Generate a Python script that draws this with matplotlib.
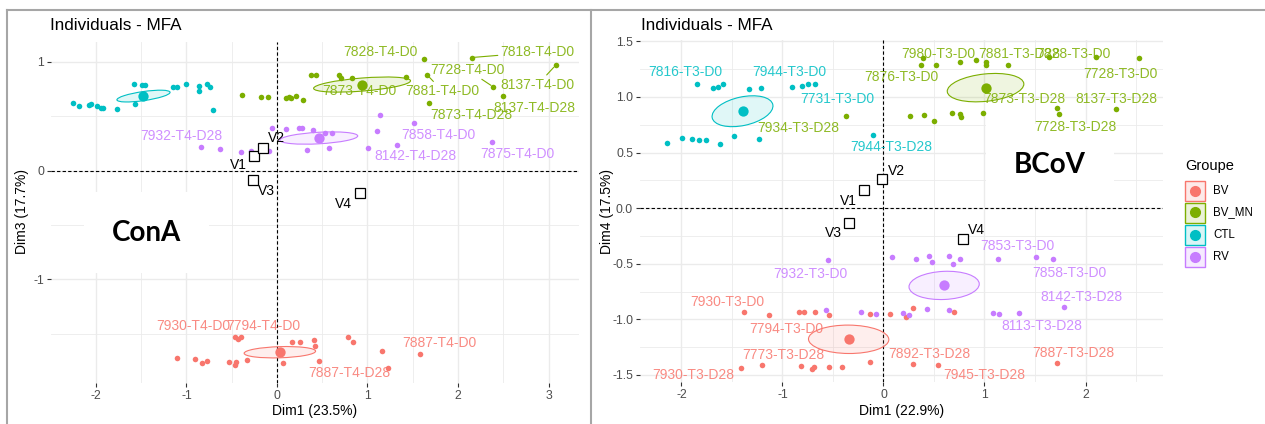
import numpy as np
import matplotlib.pyplot as plt
from matplotlib.patches import Ellipse, Rectangle
from matplotlib.lines import Line2D
from matplotlib.colors import to_rgba
from matplotlib.ticker import FormatStrFormatter, FixedLocator

plt.rcParams['font.family'] = ['Liberation Sans', 'DejaVu Sans']
plt.rcParams['axes.unicode_minus'] = False

W, H = 1265, 424

groups = ['BV', 'BV_MN', 'CTL', 'RV']
colors = {'BV': '#F8766D', 'BV_MN': '#7CAE00', 'CTL': '#00BFC4', 'RV': '#C77CFF'}

# ---- ConA : Dim1 (23.5%) x Dim3 (17.7%) ----
cona_bv_x = [-1.11, -0.91, -0.83, -0.77, -0.53, -0.46, -0.45, -0.33, -0.46, -0.43, -0.40,
             0.07, 0.17, 0.25, 0.41, 0.42, 0.46, 0.79, 0.84, 1.16, 1.23, 1.58]
cona_bv_y = [-1.72, -1.73, -1.77, -1.75, -1.76, -1.79, -1.76, -1.74, -1.53, -1.55, -1.53,
             -1.77, -1.58, -1.58, -1.56, -1.61, -1.75, -1.53, -1.58, -1.66, -1.82, -1.69]
cona_mn_x = [-0.39, -0.18, -0.10, 0.10, 0.13, 0.15, 0.21, 0.29, 0.38, 0.43, 0.68,
             0.71, 0.83, 1.42, 1.62, 1.66, 1.68, 2.15, 2.39, 2.50, 3.08]
cona_mn_y = [0.70, 0.68, 0.68, 0.67, 0.68, 0.67, 0.69, 0.65, 0.88, 0.88, 0.88,
             0.85, 0.85, 0.86, 1.03, 0.88, 0.62, 1.04, 0.77, 0.69, 0.97]
cona_ctl_x = [-2.25, -2.19, -2.08, -2.06, -1.99, -1.95, -1.92, -1.77, -1.57, -1.58,
              -1.49, -1.46, -1.15, -1.10, -1.00, -0.86, -0.86, -0.77, -0.74, -0.71]
cona_ctl_y = [0.62, 0.59, 0.60, 0.61, 0.59, 0.58, 0.58, 0.57, 0.61, 0.80,
              0.79, 0.79, 0.77, 0.77, 0.80, 0.78, 0.73, 0.80, 0.77, 0.56]
cona_rv_x = [-0.06, 0.10, 0.24, 0.28, 0.33, -0.84, -0.63, -0.40, -0.29, -0.09,
             0.40, 0.53, 0.61, 0.57, 1.14, 1.11, 1.01, 1.33, 1.51, 2.38]
cona_rv_y = [0.39, 0.38, 0.39, 0.39, 0.19, 0.22, 0.20, 0.17, 0.18, 0.18,
             0.37, 0.35, 0.35, 0.21, 0.51, 0.36, 0.21, 0.24, 0.44, 0.26]
cona_var_names = ['V1', 'V2', 'V3', 'V4']
cona_var_x = [-0.25, -0.16, -0.27, 0.92]
cona_var_y = [0.13, 0.21, -0.09, -0.21]

# ---- BCoV : Dim1 (22.9%) x Dim4 (17.5%) ----
bcov_bv_x = [-1.38, -1.13, -0.84, -0.79, -0.68, -0.54, -0.13, 0.06, 0.22, 0.29, 0.70,
             -1.41, -1.20, -0.82, -0.71, -0.69, -0.54, -0.41, -0.13, 0.29, 0.54, 1.72]
bcov_bv_y = [-0.93, -0.96, -0.93, -0.93, -0.93, -0.96, -0.95, -0.95, -0.98, -0.90, -0.93,
             -1.44, -1.41, -1.42, -1.45, -1.43, -1.43, -1.43, -1.38, -1.40, -1.41, -1.39]
bcov_mn_x = [-0.37, 0.37, 0.39, 0.52, 0.76, 0.92, 1.01, 1.01, 1.23, 1.64, 2.10,
             2.53, 0.26, 0.40, 0.50, 0.68, 0.76, 0.77, 0.99, 1.72, 1.74, 2.30]
bcov_mn_y = [0.83, 1.29, 1.35, 1.29, 1.31, 1.33, 1.31, 1.29, 1.29, 1.36, 1.36,
             1.35, 0.83, 0.84, 0.78, 0.86, 0.85, 0.82, 0.86, 0.90, 0.85, 0.89]
bcov_ctl_x = [-2.14, -1.99, -1.90, -1.83, -1.76, -1.62, -1.48, -1.23, -1.85, -1.69,
              -1.64, -1.59, -1.33, -1.21, -0.91, -0.81, -0.75, -0.68, -0.10]
bcov_ctl_y = [0.59, 0.63, 0.62, 0.61, 0.61, 0.58, 0.65, 0.62, 1.12, 1.08,
              1.09, 1.12, 1.07, 1.08, 1.09, 1.10, 1.12, 1.12, 0.66]
bcov_rv_x = [-0.55, 0.08, 0.32, 0.45, 0.48, 0.65, 0.69, 0.76, 1.13, 1.51, 1.68,
             1.79, -0.57, -0.22, -0.07, 0.19, 0.25, 0.43, 0.65, 1.08, 1.14, 1.34]
bcov_rv_y = [-0.47, -0.44, -0.46, -0.43, -0.48, -0.43, -0.50, -0.46, -0.46, -0.44, -0.46,
             -0.89, -0.92, -0.93, -0.95, -0.94, -0.96, -0.91, -0.92, -0.94, -0.95, -0.94]
bcov_var_names = ['V1', 'V2', 'V3', 'V4']
bcov_var_x = [-0.19, -0.01, -0.34, 0.79]
bcov_var_y = [0.16, 0.26, -0.13, -0.28]

# label text, group, label position, index of point to link (None = no segment)
cona_labels = [
    ('7932-T4-D28', 'RV', -1.06, 0.32, None),
    ('7858-T4-D0', 'RV', 1.78, 0.33, None),
    ('8142-T4-D28', 'RV', 1.53, 0.13, None),
    ('7875-T4-D0', 'RV', 2.66, 0.15, None),
    ('7828-T4-D0', 'BV_MN', 1.14, 1.09, None),
    ('7818-T4-D0', 'BV_MN', 2.88, 1.09, 17),
    ('7728-T4-D0', 'BV_MN', 2.10, 0.93, 18),
    ('8137-T4-D0', 'BV_MN', 2.88, 0.79, 20),
    ('7873-T4-D0', 'BV_MN', 0.91, 0.73, None),
    ('7881-T4-D0', 'BV_MN', 1.83, 0.73, 15),
    ('8137-T4-D28', 'BV_MN', 2.84, 0.58, None),
    ('7873-T4-D28', 'BV_MN', 2.15, 0.51, None),
    ('7930-T4-D0', 'BV', -0.92, -1.43, None),
    ('7794-T4-D0', 'BV', -0.15, -1.43, None),
    ('7887-T4-D28', 'BV', 0.80, -1.86, None),
    ('7887-T4-D0', 'BV', 1.79, -1.59, None),
]
cona_var_lab = [(-0.43, 0.05), (-0.01, 0.30), (-0.12, -0.19), (0.73, -0.31)]

bcov_labels = [
    ('7816-T3-D0', 'CTL', -1.96, 1.22, None),
    ('7944-T3-D0', 'CTL', -0.93, 1.22, None),
    ('7731-T3-D0', 'CTL', -0.46, 0.98, None),
    ('7944-T3-D28', 'CTL', 0.08, 0.55, None),
    ('7934-T3-D28', 'BV_MN', -0.84, 0.72, None),
    ('7980-T3-D0', 'BV_MN', 0.54, 1.39, None),
    ('7881-T3-D28', 'BV_MN', 1.34, 1.39, None),
    ('7828-T3-D0', 'BV_MN', 1.88, 1.39, None),
    ('7876-T3-D0', 'BV_MN', 0.18, 1.18, None),
    ('7728-T3-D0', 'BV_MN', 2.35, 1.21, None),
    ('7873-T3-D28', 'BV_MN', 1.39, 0.98, None),
    ('8137-T3-D28', 'BV_MN', 2.31, 0.98, None),
    ('7728-T3-D28', 'BV_MN', 1.90, 0.73, None),
    ('7853-T3-D0', 'RV', 1.33, -0.34, None),
    ('7932-T3-D0', 'RV', -0.72, -0.59, None),
    ('7858-T3-D0', 'RV', 1.84, -0.58, None),
    ('8142-T3-D28', 'RV', 1.96, -0.80, None),
    ('8113-T3-D28', 'RV', 1.57, -1.06, None),
    ('7930-T3-D0', 'BV', -1.55, -0.84, None),
    ('7794-T3-D0', 'BV', -0.96, -1.09, None),
    ('7773-T3-D28', 'BV', -0.99, -1.32, None),
    ('7930-T3-D28', 'BV', -1.88, -1.50, None),
    ('7892-T3-D28', 'BV', 0.45, -1.31, None),
    ('7945-T3-D28', 'BV', 1.00, -1.50, None),
    ('7887-T3-D28', 'BV', 1.88, -1.30, None),
]
bcov_var_lab = [(-0.35, 0.06), (0.13, 0.33), (-0.50, -0.22), (0.92, -0.20)]

cona = {'BV': (cona_bv_x, cona_bv_y), 'BV_MN': (cona_mn_x, cona_mn_y),
        'CTL': (cona_ctl_x, cona_ctl_y), 'RV': (cona_rv_x, cona_rv_y)}
bcov = {'BV': (bcov_bv_x, bcov_bv_y), 'BV_MN': (bcov_mn_x, bcov_mn_y),
        'CTL': (bcov_ctl_x, bcov_ctl_y), 'RV': (bcov_rv_x, bcov_rv_y)}


def conf_ellipse(ax, x, y, color):
    x = np.asarray(x)
    y = np.asarray(y)
    cov = np.cov(x, y) / len(x)
    vals, vecs = np.linalg.eigh(cov)
    order = vals.argsort()[::-1]
    vals, vecs = vals[order], vecs[:, order]
    angle = np.degrees(np.arctan2(vecs[1, 0], vecs[0, 0]))
    k = np.sqrt(5.991)
    w, h = 2 * k * np.sqrt(vals)
    c = (x.mean(), y.mean())
    ax.add_patch(Ellipse(c, w, h, angle=angle, facecolor=to_rgba(color, 0.12),
                         edgecolor='none', zorder=2))
    ax.add_patch(Ellipse(c, w, h, angle=angle, fill=False, edgecolor=color,
                         lw=0.8, zorder=2.1))
    ax.scatter([c[0]], [c[1]], s=55, color=color, linewidths=0, zorder=3.5)


def draw_panel(ax, data, labels, vnames, vx, vy, vlab, xlim, ylim, xt, yt, yfmt):
    ax.set_xlim(xlim)
    ax.set_ylim(ylim)
    ax.set_xticks(xt)
    ax.set_yticks(yt)
    dx = xt[1] - xt[0]
    dy = yt[1] - yt[0]
    ax.xaxis.set_minor_locator(FixedLocator(np.arange(xt[0] - dx, xt[-1] + dx, dx) + dx / 2))
    ax.yaxis.set_minor_locator(FixedLocator(np.arange(yt[0] - dy, yt[-1] + dy, dy) + dy / 2))
    ax.yaxis.set_major_formatter(FormatStrFormatter(yfmt))
    ax.grid(which='major', color='#ebebeb', lw=1.0)
    ax.grid(which='minor', color='#ebebeb', lw=0.6)
    ax.set_axisbelow(True)
    for s in ax.spines.values():
        s.set_visible(False)
    ax.tick_params(which='major', length=3, width=0.8, color='#333333',
                   labelsize=8.8, labelcolor='#4d4d4d', pad=2)
    ax.tick_params(which='minor', length=0)
    ax.axhline(0, ls=(0, (3, 2)), color='black', lw=0.8, zorder=1.5)
    ax.axvline(0, ls=(0, (3, 2)), color='black', lw=0.8, zorder=1.5)

    for g in groups:
        x, y = data[g]
        conf_ellipse(ax, x, y, colors[g])
        ax.scatter(x, y, s=16, color=colors[g], linewidths=0, zorder=3)

    for text, g, tx, ty, idx in labels:
        col = to_rgba(colors[g], 0.85)
        if idx is None:
            ax.text(tx, ty, text, color=col, fontsize=10, ha='center', va='center', zorder=4)
        else:
            px, py = data[g][0][idx], data[g][1][idx]
            ax.annotate(text, xy=(px, py), xytext=(tx, ty), color=col, fontsize=10,
                        ha='center', va='center', zorder=4,
                        arrowprops=dict(arrowstyle='-', color=colors[g], lw=0.8,
                                        shrinkA=0, shrinkB=2))

    ax.plot(vx, vy, ls='none', marker='s', ms=6.5, mfc='white', mec='black',
            mew=0.9, zorder=3.6)
    for name, (lx, ly) in zip(vnames, vlab):
        ax.text(lx, ly, name, fontsize=10, color='black', ha='center', va='center', zorder=4)


fig = plt.figure(figsize=(W / 100, H / 100), dpi=100)

axL = fig.add_axes([51 / W, 1 - 383 / H, 528 / W, 341 / H])
axR = fig.add_axes([640 / W, 1 - 382 / H, 523 / W, 342 / H])

draw_panel(axL, cona, cona_labels, cona_var_names, cona_var_x, cona_var_y, cona_var_lab,
           (-2.497, 3.337), (-1.954, 1.183), [-2, -1, 0, 1, 2, 3], [-1, 0, 1], '%g')
draw_panel(axR, bcov, bcov_labels, bcov_var_names, bcov_var_x, bcov_var_y, bcov_var_lab,
           (-2.41, 2.767), (-1.563, 1.512), [-2, -1, 0, 1, 2],
           [-1.5, -1.0, -0.5, 0.0, 0.5, 1.0, 1.5], '%.1f')

box = dict(boxstyle='square,pad=1.0', facecolor='white', edgecolor='none')
axL.text(-1.44, -0.57, 'ConA', family=['Lato', 'DejaVu Sans'], fontweight='bold',
         fontsize=20, ha='center', va='center', bbox=box, zorder=1.2)
axR.text(1.65, 0.39, 'BCoV', family=['Lato', 'DejaVu Sans'], fontweight='bold',
         fontsize=20, ha='center', va='center', bbox=box, zorder=1.2)

# titles and axis labels
fig.text(50 / W, 1 - 25 / H, 'Individuals - MFA', fontsize=12.3, ha='left', va='center')
fig.text(641 / W, 1 - 25 / H, 'Individuals - MFA', fontsize=12.3, ha='left', va='center')
fig.text(315 / W, 1 - 411 / H, 'Dim1 (23.5%)', fontsize=10, ha='center', va='center')
fig.text(902 / W, 1 - 411 / H, 'Dim1 (22.9%)', fontsize=10, ha='center', va='center')
fig.text(22 / W, 1 - 212 / H, 'Dim3 (17.7%)', fontsize=10, ha='center', va='center', rotation=90)
fig.text(607 / W, 1 - 212 / H, 'Dim4 (17.5%)', fontsize=10, ha='center', va='center', rotation=90)

# legend
fig.text(1185 / W, 1 - 166 / H, 'Groupe', fontsize=10.5, ha='left', va='center')
for i, g in enumerate(groups):
    cy = 190.5 + 22 * i
    fig.add_artist(Rectangle((1185 / W, 1 - (cy + 10) / H), 20 / W, 20 / H,
                             transform=fig.transFigure, facecolor=to_rgba(colors[g], 0.15),
                             edgecolor=colors[g], lw=1.0))
    fig.add_artist(Line2D([1195 / W], [1 - cy / H], marker='o', ms=7, color=colors[g],
                          transform=fig.transFigure))
    fig.text(1213 / W, 1 - cy / H, g, fontsize=8.3, ha='left', va='center')

# screenshot frame
fig.add_artist(Line2D([7 / W, 1], [1 - 10 / H, 1 - 10 / H], color='#a6a6a6', lw=1.5,
                      transform=fig.transFigure))
fig.add_artist(Line2D([7 / W, 7 / W], [0, 1 - 10 / H], color='#a6a6a6', lw=1.5,
                      transform=fig.transFigure))
fig.add_artist(Line2D([591 / W, 591 / W], [0, 1 - 10 / H], color='#a6a6a6', lw=1.5,
                      transform=fig.transFigure))

fig.savefig('out.png', dpi=100)
